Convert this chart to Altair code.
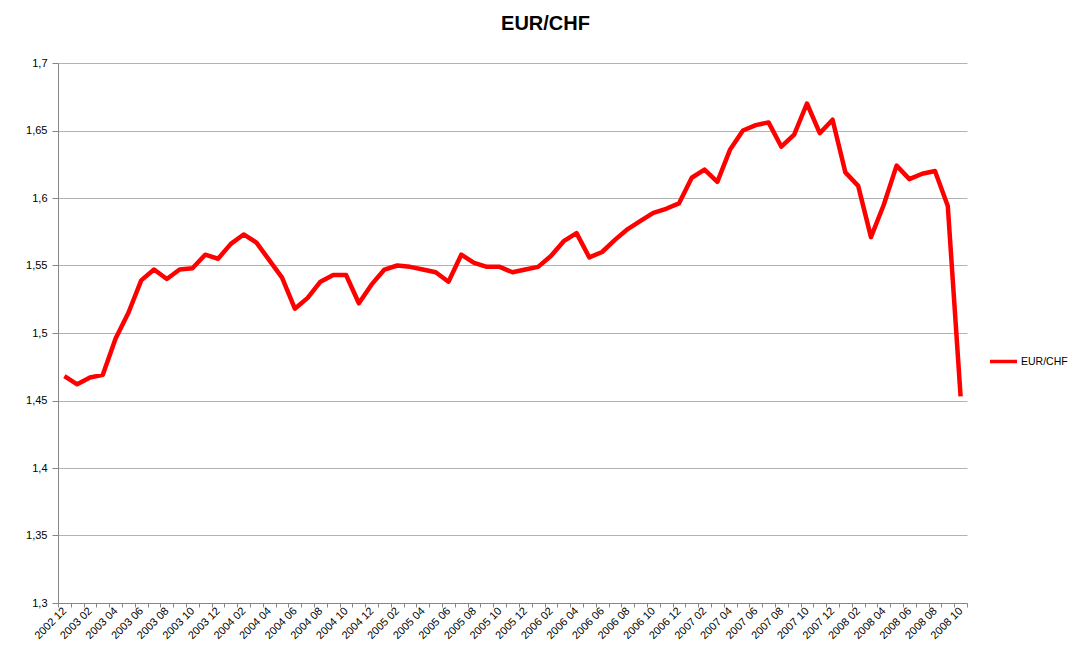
import json
import altair as alt
import pandas as pd

months = [
    "2002 12",
    "2003 01", "2003 02", "2003 03", "2003 04", "2003 05", "2003 06",
    "2003 07", "2003 08", "2003 09", "2003 10", "2003 11", "2003 12",
    "2004 01", "2004 02", "2004 03", "2004 04", "2004 05", "2004 06",
    "2004 07", "2004 08", "2004 09", "2004 10", "2004 11", "2004 12",
    "2005 01", "2005 02", "2005 03", "2005 04", "2005 05", "2005 06",
    "2005 07", "2005 08", "2005 09", "2005 10", "2005 11", "2005 12",
    "2006 01", "2006 02", "2006 03", "2006 04", "2006 05", "2006 06",
    "2006 07", "2006 08", "2006 09", "2006 10", "2006 11", "2006 12",
    "2007 01", "2007 02", "2007 03", "2007 04", "2007 05", "2007 06",
    "2007 07", "2007 08", "2007 09", "2007 10", "2007 11", "2007 12",
    "2008 01", "2008 02", "2008 03", "2008 04", "2008 05", "2008 06",
    "2008 07", "2008 08", "2008 09", "2008 10",
]

eur_chf = [
    1.468,
    1.462, 1.467, 1.469, 1.496, 1.515, 1.539,
    1.547, 1.540, 1.547, 1.548, 1.558, 1.555,
    1.566, 1.573, 1.567, 1.554, 1.541, 1.518,
    1.526, 1.538, 1.543, 1.543, 1.522, 1.536,
    1.547, 1.550, 1.549, 1.547, 1.545, 1.538,
    1.558, 1.552, 1.549, 1.549, 1.545, 1.547,
    1.549, 1.557, 1.568, 1.574, 1.556, 1.560,
    1.569, 1.577, 1.583, 1.589, 1.592, 1.596,
    1.615, 1.621, 1.612, 1.636, 1.650, 1.654,
    1.656, 1.638, 1.647, 1.670, 1.648, 1.658,
    1.619, 1.609, 1.571, 1.595, 1.624, 1.614,
    1.618, 1.620, 1.594, 1.453,
]

y_ticks = [1.3, 1.35, 1.4, 1.45, 1.5, 1.55, 1.6, 1.65, 1.7]
series_name = "EUR/CHF"

df = pd.DataFrame({
    "idx": list(range(len(months))),
    "month": months,
    "rate": eur_chf,
    "series": [series_name] * len(months),
})

W, H = 909, 540
n = len(months)
band = W / n
tick_values = [i - 0.5 for i in range(n + 1)]
label_expr = (
    f"(datum.value + 0.5) % 2 == 0 && datum.value < {n - 1} ? "
    f"{json.dumps(months)}[datum.value + 0.5] : ''"
)

FONT = "Liberation Sans"
AXIS_GRAY = "#868686"

line = alt.Chart(df).mark_line(strokeWidth=4.5, strokeJoin="round").encode(
    x=alt.X(
        "idx:Q",
        scale=alt.Scale(domain=[-0.5, n - 0.5], nice=False, zero=False),
        axis=alt.Axis(
            values=tick_values,
            labelExpr=label_expr,
            labelOffset=band / 2,
            labelAngle=-45,
            labelAlign="right",
            labelBaseline="middle",
            labelOverlap=False,
            labelFlush=False,
            labelPadding=2,
            tickSize=4,
            grid=False,
            title=None,
        ),
    ),
    y=alt.Y(
        "rate:Q",
        scale=alt.Scale(domain=[1.3, 1.7], nice=False, zero=False),
        axis=alt.Axis(
            values=y_ticks,
            labelExpr="replace(format(datum.value, '.2~f'), '.', ',')",
            tickSize=6,
            labelPadding=5,
            grid=True,
            title=None,
        ),
    ),
    color=alt.Color(
        "series:N",
        scale=alt.Scale(range=["#ff0000"]),
        legend=alt.Legend(
            title=None,
            orient="none",
            legendX=W + 21,
            legendY=H / 2 + 13,
            symbolType="stroke",
            symbolStrokeWidth=3.5,
            symbolSize=729,
            labelOffset=2,
            labelFontSize=10.5,
            labelFont=FONT,
            labelColor="#000000",
        ),
    ),
)

chart = line.properties(
    width=W,
    height=H,
    title=alt.Title(
        "EUR/CHF",
        fontSize=20,
        fontWeight="bold",
        font=FONT,
        color="#000000",
        offset=23,
        dx=33,
    ),
    autosize=alt.AutoSizeParams(type="none"),
    padding={"left": 50, "top": 55, "right": 101, "bottom": 60},
).configure_view(
    stroke=None
).configure_axis(
    domainColor=AXIS_GRAY,
    tickColor=AXIS_GRAY,
    gridColor="#b3b3b3",
    labelFont=FONT,
    labelFontSize=11,
    labelColor="#000000",
)

chart.save("out.html", embed_options={"renderer": "svg", "actions": False})
